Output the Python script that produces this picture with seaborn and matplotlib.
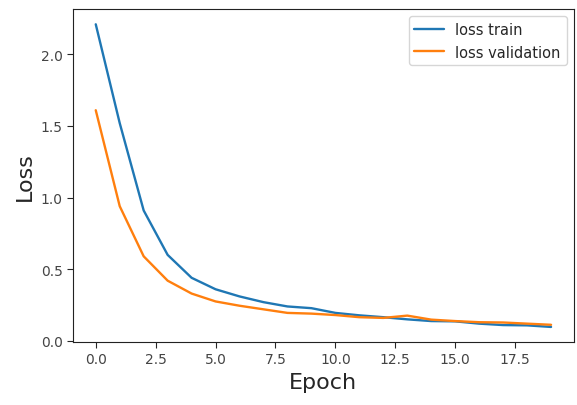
import numpy as np
import pandas as pd
import matplotlib
matplotlib.use("Agg")
import matplotlib.pyplot as plt
import seaborn as sns

epochs = list(range(20))
loss_train = [2.21, 1.52, 0.91, 0.60, 0.44, 0.36, 0.31, 0.27, 0.24, 0.228,
              0.195, 0.178, 0.165, 0.150, 0.138, 0.136, 0.120, 0.110, 0.108, 0.097]
loss_validation = [1.61, 0.94, 0.59, 0.42, 0.33, 0.275, 0.245, 0.22, 0.195, 0.19,
                   0.180, 0.165, 0.160, 0.176, 0.148, 0.138, 0.130, 0.128, 0.120, 0.112]
series_names = ["loss train", "loss validation"]

df = pd.DataFrame({
    "Epoch": epochs * 2,
    "Loss": loss_train + loss_validation,
    "series": [series_names[0]] * len(epochs) + [series_names[1]] * len(epochs),
})

sns.set_style("ticks")
plt.rcParams["font.family"] = ["DejaVu Sans"]

fig = plt.figure(figsize=(5.77, 4.06), dpi=100)
ax = fig.add_axes([0.1265, 0.155, 0.868, 0.82])

sns.lineplot(data=df, x="Epoch", y="Loss", hue="series",
             palette=["#1f77b4", "#ff7f0e"], linewidth=1.7, ax=ax)

ax.set_xticks([0, 2.5, 5, 7.5, 10, 12.5, 15, 17.5])
ax.set_xticklabels(["0.0", "2.5", "5.0", "7.5", "10.0", "12.5", "15.0", "17.5"])
ax.set_yticks([0, 0.5, 1.0, 1.5, 2.0])
ax.set_yticklabels(["0.0", "0.5", "1.0", "1.5", "2.0"])
ax.tick_params(labelsize=10, labelcolor="#444444", length=4)
ax.set_xlabel("Epoch", fontsize=16)
ax.set_ylabel("Loss", fontsize=16)
for s in ax.spines.values():
    s.set_color("#222222")

leg = ax.legend(loc="upper right", fontsize=10.5, frameon=True)
leg.set_title(None)

fig.savefig("out.png", dpi=100)
